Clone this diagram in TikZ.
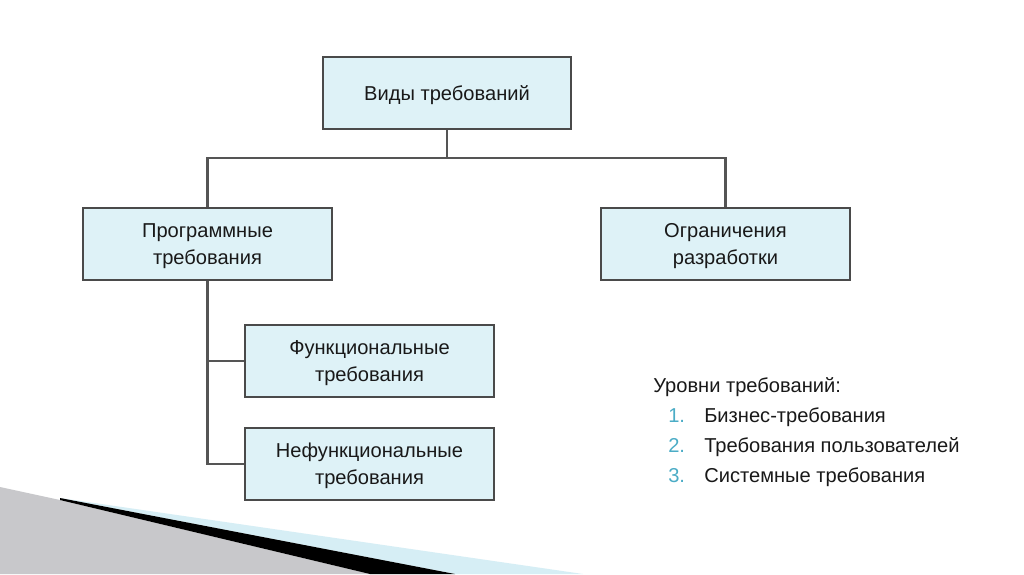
\documentclass[tikz,border=0pt]{standalone}
\usepackage{fontspec}
\setmainfont{Liberation Sans}
\usetikzlibrary{positioning}

\definecolor{boxfill}{HTML}{DEF2F7}
\definecolor{boxline}{HTML}{4A4A4A}
\definecolor{linkgray}{HTML}{555555}
\definecolor{numteal}{HTML}{4BACC6}
\definecolor{stripgray}{HTML}{C8C8CB}
\definecolor{stripblue}{HTML}{D6EEF5}

\begin{document}
\begin{tikzpicture}[x=0.025cm,y=-0.025cm]
	\tikzset{
		box/.style={draw=boxline, fill=boxfill, line width=1.4pt, minimum width=6.2cm, minimum height=1.8cm,
			align=center, text=black!90, font=\fontsize{14.3}{19}\selectfont, text depth=-2pt},
		link/.style={draw=linkgray, line width=1.8pt},
		lvltext/.style={anchor=base west, inner sep=0pt, text=black!90, font=\fontsize{14.3}{18}\selectfont},
		lvlnum/.style={anchor=base west, inner sep=0pt, text=numteal, font=\fontsize{14.3}{18}\selectfont}
	}
	\fill[white] (0,0) rectangle (1024,574);
	\useasboundingbox (0,0) rectangle (1024,574);
	% bottom left corner decoration
	\fill[stripblue] (60,498)--(583,574)--(455,574)--cycle;
	\fill[stripgray] (0,487)--(60,500)--(370,574)--(0,574)--cycle;
	\fill[black] (60,498)--(455,574)--(370,574)--(60,500)--cycle;

	% boxes
	\node[box] (vidy) at (447,93) {Виды требований};
	\node[box] (prog) at (207.5,244) {Программные\\требования};
	\node[box] (limits) at (725.5,244) {Ограничения\\разработки};
	\node[box] (func) at (369.5,361) {Функциональные\\требования};
	\node[box] (nonfunc) at (369.5,464) {Нефункциональные\\требования};

	% connectors
	\coordinate (split) at (447,158);
	\draw[link] (vidy.south)--(split);
	\draw[link] (split)-|(prog.north);
	\draw[link] (split)-|(limits.north);
	\draw[link] (prog.south)|-(func.west);
	\draw[link] (prog.south)|-(nonfunc.west);

	% levels
	\node[lvltext] (lvl) at (653,392) {Уровни требований:};
	\node[lvlnum] (n1) at (668,422) {1.};
	\node[lvltext] (l1) at (704,422) {Бизнес-требования};
	\node[lvlnum] (n2) at (668,452) {2.};
	\node[lvltext] (l2) at (704,452) {Требования пользователей};
	\node[lvlnum] (n3) at (668,482) {3.};
	\node[lvltext] (l3) at (704,482) {Системные требования};
\end{tikzpicture}
\end{document}
